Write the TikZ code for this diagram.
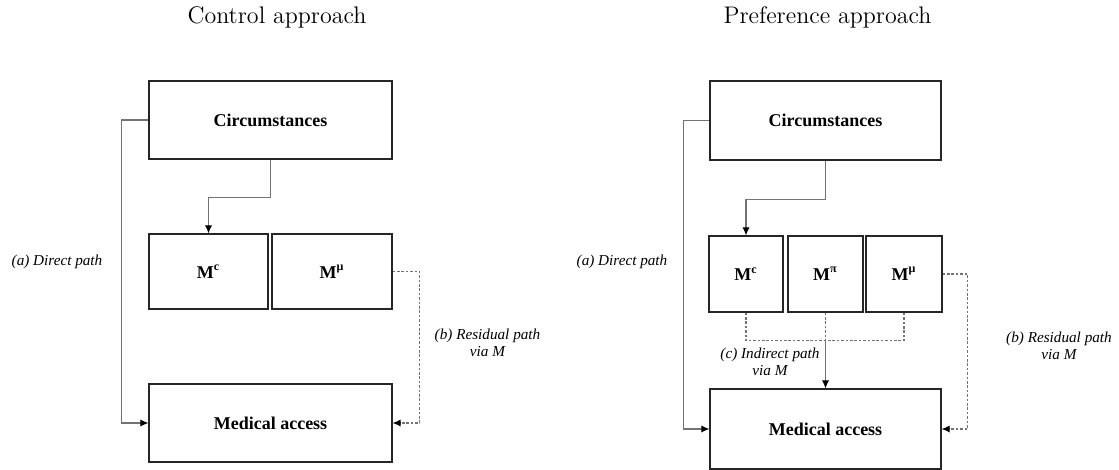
\documentclass[tikz,border=0pt]{standalone}
\usepackage{fontspec}
\usetikzlibrary{arrows.meta,calc}
\newfontfamily\tnr{Liberation Serif}
\tikzset{
  box/.style = {draw=black!85, line width=.6pt, inner sep=1pt, align=center,
                font=\tnr\fontsize{9}{11}\selectfont\bfseries},
  conn/.style = {draw=black!55, line width=.55pt,
                 -{Latex[length=4pt,width=3.6pt,color=black]}},
  dconn/.style = {conn, dash pattern=on 1.3pt off .9pt},
  pathlabel/.style = {align=center, font=\tnr\fontsize{7.6}{8.6}\selectfont\itshape},
  title/.style = {font=\fontsize{12}{14}\selectfont}
}

\begin{document}
\begin{tikzpicture}[x=.5pt, y=-.5pt]
    \useasboundingbox (0,0) rectangle (1119,470);
    % control approach
    \node[title] (tL) at (277,17) {Control approach};
    \node[box, minimum width=121.5pt, minimum height=39pt] (circL) at (270.5,120) {Circumstances};
    \node[box, minimum width=59.5pt, minimum height=37.5pt] (mcL) at (208.5,271.5) {M\textsuperscript{c}};
    \node[box, minimum width=60pt, minimum height=37.5pt] (muL) at (332,271.5) {M\textsuperscript{μ}};
    \node[box, minimum width=121.5pt, minimum height=39pt] (medL) at (270.5,423) {Medical access};
    \draw[conn] (circL.west) -- ++(-27,0) |- (medL.west);
    \draw[conn] (circL.south) -- ++(0,38) -| (mcL.north);
    \draw[dconn] (muL.east) -- ++(27,0) |- (medL.east);
    \node[pathlabel] (aL) at (57,262) {(a) Direct path};
    \node[pathlabel] (bL) at (487.5,343) {(b) Residual path\\via \textit{M}};
    % preference approach
    \node[title] (tR) at (827.5,17) {Preference approach};
    \node[box, minimum width=115.5pt, minimum height=39.5pt] (circR) at (825.5,120.5) {Circumstances};
    \node[box, minimum width=37pt, minimum height=38pt] (mcR) at (746,274) {M\textsuperscript{c}};
    \node[box, minimum width=37.5pt, minimum height=38pt] (mpR) at (825.5,274) {M\textsuperscript{π}};
    \node[box, minimum width=38pt, minimum height=38pt] (muR) at (904,274) {M\textsuperscript{μ}};
    \node[box, minimum width=115.5pt, minimum height=40pt] (medR) at (825.5,429) {Medical access};
    \coordinate (jR) at ($(mpR.south)+(0,28)$);
    \draw[conn] (circR.west) -- ++(-26,0) |- (medR.west);
    \draw[conn] (circR.south) -- ++(0,39) -| (mcR.north);
    \draw[dconn,-] (mcR.south) -- ++(0,28) -| (muR.south);
    \draw[dconn,-] (mpR.south) -- (jR);
    \draw[conn] (jR) -- (medR.north);
    \draw[dconn] (muR.east) -- ++(25,0) |- (medR.east);
    \node[pathlabel] (aR) at (622,262) {(a) Direct path};
    \node[pathlabel] (cR) at (770,362) {(c) Indirect path\\via \textit{M}};
    \node[pathlabel] (bR) at (1059,346) {(b) Residual path\\via \textit{M}};
\end{tikzpicture}
\end{document}
